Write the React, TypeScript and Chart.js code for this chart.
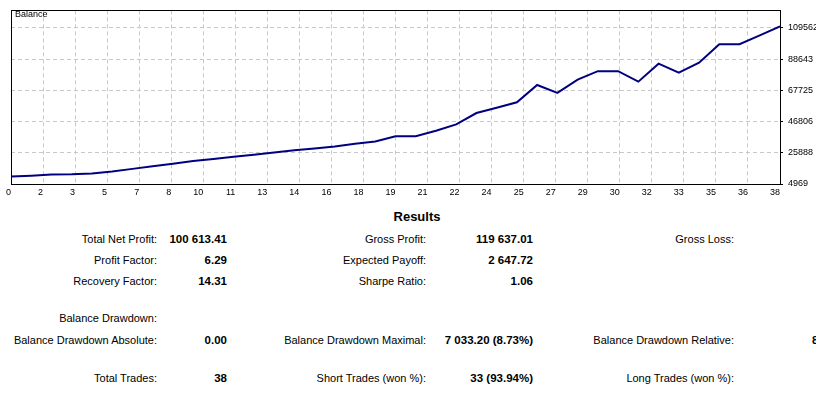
import React, { useEffect, useRef } from 'react';
import { Chart, registerables } from 'chart.js';

Chart.register(...registerables);

// ---- data ----
const balance = [
  10000, 10500, 11300, 11500, 12000, 13300, 15100, 16900, 18600, 20300,
  21700, 23200, 24500, 26000, 27500, 28800, 30100, 31900, 33500, 37000,
  37000, 40600, 44900, 52500, 56000, 59700, 71300, 66000, 74900, 80563,
  80563, 73530, 85600, 79500, 86200, 98600, 98600, 104500, 110613.41,
];
const xTickLabels = [
  '0', '2', '3', '5', '7', '8', '10', '11', '13', '14', '16', '18', '19',
  '21', '22', '24', '25', '27', '29', '30', '32', '33', '35', '36', '38',
];
const yTickValues = [4969, 25888, 46806, 67725, 88643, 109562];
const yMin = 4969;
const yMax = 121258;
const chartTitle = 'Balance';

const resultsTitle = 'Results';
const col1Labels = ['Total Net Profit:', 'Profit Factor:', 'Recovery Factor:', 'Balance Drawdown:', 'Balance Drawdown Absolute:', 'Total Trades:'];
const col1Values = ['100 613.41', '6.29', '14.31', '', '0.00', '38'];
const col2Labels = ['Gross Profit:', 'Expected Payoff:', 'Sharpe Ratio:', '', 'Balance Drawdown Maximal:', 'Short Trades (won %):'];
const col2Values = ['119 637.01', '2 647.72', '1.06', '', '7 033.20 (8.73%)', '33 (93.94%)'];
const col3Labels = ['Gross Loss:', '', '', '', 'Balance Drawdown Relative:', 'Long Trades (won %):'];
const col3Values = ['', '', '', '', '8.73% (7 033.20)', ''];

const FONT = '"Liberation Sans", Arial, sans-serif';
const W = 816;
const rowY = [239.3, 260.3, 281, 318.3, 340, 378.3];

const framePlugin = {
  id: 'frame',
  afterDraw(chart: any) {
    const { ctx, chartArea } = chart;
    const l = Math.round(chartArea.left) + 0.5;
    const t = Math.round(chartArea.top) + 0.5;
    const r = Math.round(chartArea.right) + 0.5;
    const b = Math.round(chartArea.bottom) + 0.5;
    ctx.save();
    ctx.strokeStyle = '#000';
    ctx.lineWidth = 1;
    ctx.setLineDash([]);
    ctx.strokeRect(l, t, r - l, b - t);
    ctx.restore();
  },
};

function Txt(props: { right?: number; left?: number; y: number; text: string; bold?: boolean; size?: number }) {
  const size = props.size ?? 11;
  const style: any = {
    position: 'absolute',
    top: props.y - 7,
    lineHeight: '14px',
    fontSize: size,
    fontWeight: props.bold ? 700 : 400,
    whiteSpace: 'nowrap',
    color: '#000',
  };
  if (props.right !== undefined) {
    style.right = W - props.right;
    style.textAlign = 'right';
  } else {
    style.left = props.left;
  }
  return <div style={style}>{props.text}</div>;
}

export default function App() {
  const ref = useRef<HTMLCanvasElement | null>(null);

  useEffect(() => {
    document.body.style.margin = '0';
    const canvas = ref.current;
    if (!canvas) return;
    const tickFont = { family: FONT, size: 9 };
    const chart = new Chart(canvas, {
      type: 'line',
      data: {
        datasets: [
          {
            label: chartTitle,
            data: balance.map((v, i) => ({ x: i, y: v })),
            borderColor: '#000080',
            borderWidth: 2,
            pointRadius: 0,
            tension: 0,
            fill: false,
          },
        ],
      },
      options: {
        animation: false,
        responsive: false,
        events: [],
        layout: { padding: { left: 11, top: 5, right: 0, bottom: 0 } },
        plugins: { legend: { display: false }, tooltip: { enabled: false }, title: { display: false } },
        scales: {
          x: {
            type: 'linear',
            min: 0,
            max: balance.length - 1,
            afterBuildTicks: (s: any) => {
              s.ticks = xTickLabels.map((_, i) => ({ value: (i * (balance.length - 1)) / (xTickLabels.length - 1) }));
            },
            afterFit: (s: any) => {
              s.height = 16;
            },
            ticks: {
              autoSkip: false,
              maxRotation: 0,
              align: 'end',
              padding: 3,
              color: '#000',
              font: tickFont,
              callback: (_v: any, i: number) => xTickLabels[i] ?? '',
            },
            grid: { color: '#c8c8c8', lineWidth: 1, drawTicks: false },
            border: { display: true, color: '#000', width: 1, dash: [4, 3] },
          },
          y: {
            type: 'linear',
            position: 'right',
            min: yMin,
            max: yMax,
            afterBuildTicks: (s: any) => {
              s.ticks = yTickValues.map((v) => ({ value: v }));
            },
            afterFit: (s: any) => {
              s.width = 36;
            },
            ticks: {
              padding: 5,
              color: '#000',
              font: tickFont,
              callback: (v: any) => String(v),
            },
            grid: {
              color: '#c8c8c8',
              lineWidth: 1,
              drawTicks: true,
              tickLength: 3,
              tickColor: '#000',
              tickBorderDash: [],
            },
            border: { display: true, color: '#000', width: 1, dash: [4, 3] },
          },
        },
      } as any,
      plugins: [framePlugin],
    });
    return () => chart.destroy();
  }, []);

  return (
    <div style={{ position: 'relative', width: W, height: 394, overflow: 'hidden', background: '#fff', fontFamily: FONT }}>
      <div style={{ position: 'absolute', left: 0, top: 0, width: W, height: 200 }}>
        <canvas ref={ref} width={W} height={200} style={{ display: 'block' }} />
      </div>
      <div style={{ position: 'absolute', left: 15, top: 9, fontSize: 9, lineHeight: '10px', color: '#000' }}>{chartTitle}</div>
      <div
        style={{
          position: 'absolute',
          left: 417,
          top: 217.3 - 8,
          transform: 'translateX(-50%)',
          fontSize: 13,
          fontWeight: 700,
          lineHeight: '16px',
          whiteSpace: 'nowrap',
        }}
      >
        {resultsTitle}
      </div>
      {rowY.map((y, i) => (
        <React.Fragment key={i}>
          {col1Labels[i] && <Txt right={157} y={y} text={col1Labels[i]} />}
          {col1Values[i] && <Txt right={227} y={y} text={col1Values[i]} bold size={11.5} />}
          {col2Labels[i] && <Txt right={426} y={y} text={col2Labels[i]} />}
          {col2Values[i] && <Txt right={533} y={y} text={col2Values[i]} bold size={11.5} />}
          {col3Labels[i] && <Txt right={734} y={y} text={col3Labels[i]} />}
          {col3Values[i] && <Txt left={812} y={y} text={col3Values[i]} bold size={11.5} />}
        </React.Fragment>
      ))}
    </div>
  );
}
